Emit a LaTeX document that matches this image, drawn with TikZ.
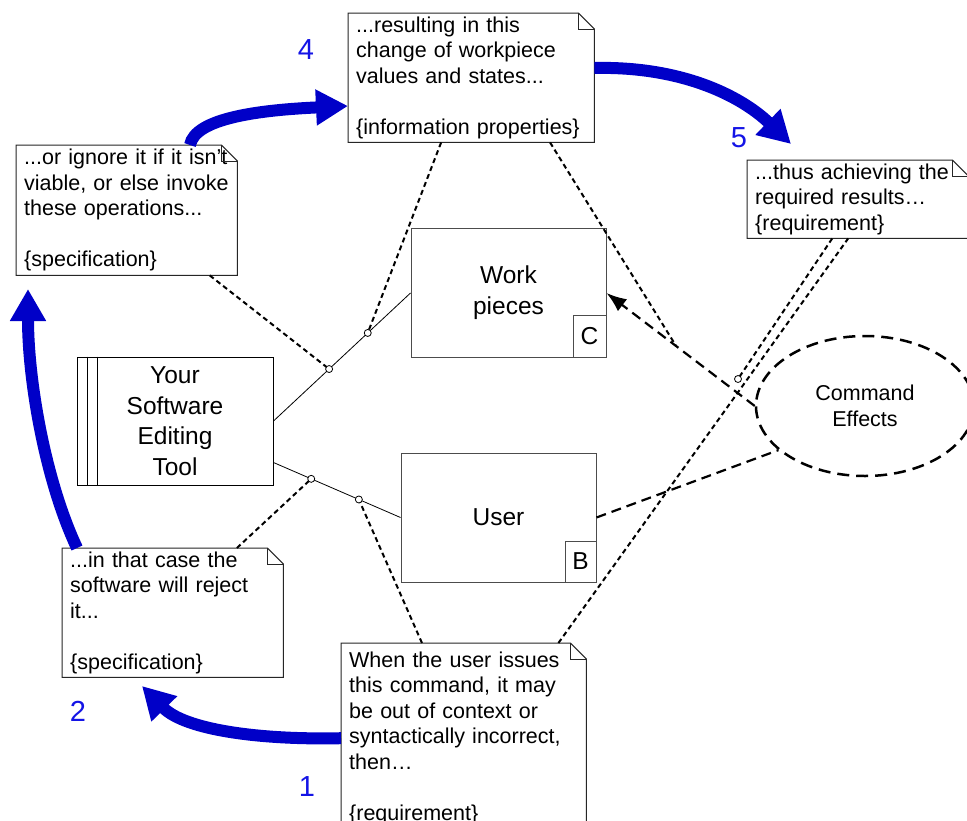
\documentclass[tikz,border=0pt]{standalone}
\usepackage{fontspec}
\setmainfont{Liberation Sans}
\usetikzlibrary{arrows.meta,shapes.geometric,calc}
\definecolor{arrblue}{RGB}{0,0,200}
\definecolor{lblblue}{RGB}{20,20,230}
\tikzset{
 notetxt/.style={fill=white, draw=none, inner xsep=8pt, inner ysep=3.5pt, anchor=north west, align=left, font=\fontsize{21.5}{25.5}\selectfont},
 noteline/.style={draw=black!85, line width=1pt},
 clsbox/.style={draw=black!70, line width=1pt, fill=white, minimum width=195pt, minimum height=129pt, align=center, inner sep=0pt, font=\fontsize{24.5}{31}\selectfont},
 tagbox/.style={draw=black!70, line width=1pt, anchor=south east, inner sep=0pt, font=\fontsize{24.5}{30}\selectfont},
 link/.style={draw=black, line width=0.8pt},
 anno/.style={draw=black, line width=2pt, dash pattern=on 5pt off 3.5pt},
 circ/.style={circle, draw=black, line width=0.8pt, fill=white, inner sep=0pt, minimum size=7pt},
 effect/.style={draw=black, line width=2.2pt, dash pattern=on 10pt off 6pt},
 bluearr/.style={draw=arrblue, line width=12pt, -{Triangle[length=32pt,width=34pt]}},
 lbl/.style={text=lblblue, font=\fontsize{29}{30}\selectfont, inner sep=0pt},
}
\newcommand\notefold[1]{%
 \draw[noteline] (#1.north west) -- ([xshift=-16pt]#1.north east) -- ([yshift=-16pt]#1.north east) -- (#1.south east) -- (#1.south west) -- cycle;
 \draw[noteline] ([xshift=-16pt]#1.north east) |- ([yshift=-16pt]#1.north east);}
\begin{document}
\begin{tikzpicture}[x=1pt,y=-1pt]
\useasboundingbox (0,0) rectangle (967,820);

% main nodes
\node[draw=black, line width=1pt, fill=white, minimum width=196pt, minimum height=128pt, align=center, inner sep=0pt, font=\fontsize{24.5}{30.5}\selectfont] (tool) at (175,421) {Your\\Software\\Editing\\Tool};
\draw[line width=1pt] ([xshift=11pt]tool.north west) -- ([xshift=11pt]tool.south west);
\draw[line width=1pt] ([xshift=21pt]tool.north west) -- ([xshift=21pt]tool.south west);

\node[clsbox] (wp) at (508.5,293) {Work\\pieces};
\node[tagbox, minimum width=33pt, minimum height=42pt] (wpc) at (wp.south east) {C};

\node[clsbox] (user) at (498.5,517.5) {User};
\node[tagbox, minimum width=31pt, minimum height=41pt] (userb) at (user.south east) {B};

\node[ellipse, draw=black, line width=2.5pt, dash pattern=on 12pt off 7pt, minimum width=218pt, minimum height=140pt, inner sep=0pt, align=center, font=\fontsize{21.5}{26}\selectfont] (ce) at (865,406) {Command\\Effects};

% notes
\node[notetxt, text width=230pt, minimum height=129pt] (nt) at (348,13) {...resulting in this\\ change of workpiece\\ values and states...\\ \mbox{}\\ \{information properties\}};
\notefold{nt}
\node[notetxt, text width=205pt, minimum height=130pt] (nl) at (16,145) {...or ignore it if it isn’t\\ viable, or else invoke\\ these operations...\\ \mbox{}\\ \{specification\}};
\notefold{nl}
\node[notetxt, text width=205pt, minimum height=77pt] (nr) at (747,160) {...thus achieving the\\ required results…\\ \{requirement\}};
\notefold{nr}
\node[notetxt, text width=205pt, minimum height=128pt] (nbl) at (62,548) {...in that case the\\ software will reject\\ it...\\ \mbox{}\\ \{specification\}};
\notefold{nbl}
\node[notetxt, text width=229pt, minimum height=190pt] (nb) at (341,643) {When the user issues\\ this command, it may\\ be out of context or\\ syntactically incorrect,\\ then…\\ \mbox{}\\ \{requirement\}};
\notefold{nb}

% associations
\coordinate (t1) at (tool.east);
\coordinate (t2) at ([yshift=23pt]tool.south east);
\draw[link] (t1) -- (wp.west);
\draw[link] (t2) -- (user.west);
\coordinate (c1p) at ($(t1)!0.406!(wp.west)$);
\coordinate (c2p) at ($(t1)!0.688!(wp.west)$);
\coordinate (c3p) at ($(t2)!0.297!(user.west)$);
\coordinate (c4p) at ($(t2)!0.672!(user.west)$);

% command effects
\draw[effect, -{Latex[length=20pt,width=15pt]}] (ce.west) -- (wp.east);
\coordinate (m1) at ($(ce.west)!0.53!(wp.east)$);
\draw[effect] (user.east) -- (ce.207);

% annotation links
\coordinate (c5p) at (738,379);
\draw[anno] ($(nl.south west)!0.875!(nl.south east)$) -- (c1p);
\draw[anno] ($(nt.south west)!0.378!(nt.south east)$) -- (c2p);
\draw[anno] ($(nt.south west)!0.82!(nt.south east)$) -- (m1);
\draw[anno] ($(nbl.north west)!0.79!(nbl.north east)$) -- (c3p);
\draw[anno] ($(nb.north west)!0.33!(nb.north east)$) -- (c4p);
\draw[anno] ($(nb.north west)!0.886!(nb.north east)$) -- ($(nr.south west)!0.457!(nr.south east)$);
\draw[anno] ($(nr.south west)!0.385!(nr.south east)$) -- (c5p);

\node[circ] (c1) at (c1p) {};
\node[circ] (c2) at (c2p) {};
\node[circ] (c3) at (c3p) {};
\node[circ] (c4) at (c4p) {};
\node[circ] (c5) at (c5p) {};

% blue flow arrows
\coordinate (a1e) at (142,686);
\coordinate (a2s) at ([xshift=15pt]nbl.north west);
\coordinate (a2e) at (28,289);
\coordinate (a4s) at ([xshift=174pt]nl.north west);
\coordinate (a4e) at ([yshift=-93pt]nt.north west);
\coordinate (a5s) at ([yshift=-55pt]nt.north east);
\coordinate (a5e) at (791,144);
\draw[bluearr] (nb.west) .. controls (260,740) and (185,730) .. (a1e);
\draw[bluearr] (a2s) .. controls (45,480) and (28,380) .. (a2e);
\draw[bluearr] (a4s) .. controls (195,118) and (260,110) .. (a4e);
\draw[bluearr] (a5s) .. controls (680,66) and (740,95) .. (a5e);

% step labels
\node[lbl] (l1) at (307,787) {1};
\node[lbl] (l2) at (78,711) {2};
\node[lbl] (l4) at (306,50) {4};
\node[lbl] (l5) at (739,138) {5};
\end{tikzpicture}
\end{document}
